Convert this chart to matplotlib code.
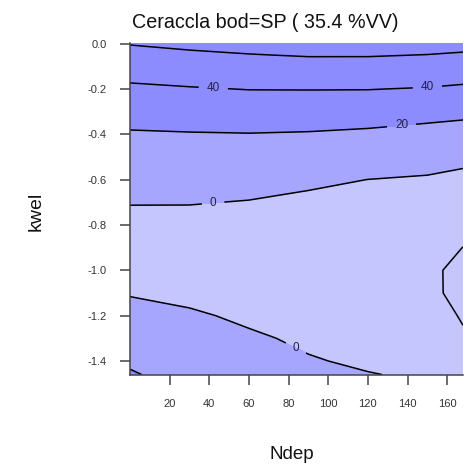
import numpy as np
import matplotlib
matplotlib.use('Agg')
import matplotlib.pyplot as plt

plt.rcParams['axes.unicode_minus'] = False
plt.rcParams['font.family'] = ['Liberation Sans', 'DejaVu Sans']

# grid
ndep = [0, 30, 60, 90, 120, 150, 168]
kwel = [0.0, -0.05, -0.1, -0.15, -0.2, -0.25, -0.3, -0.35, -0.4, -0.5,
        -0.6, -0.7, -0.8, -0.9, -1.0, -1.1, -1.2, -1.3, -1.4, -1.46]
z_values = [
    [60.7, 63.5, 65.7, 67.8, 67.8, 66.7, 65.2],
    [54.7, 57.3, 59.4, 61.0, 61.0, 59.7, 58.2],
    [48.6, 51.0, 53.0, 54.2, 54.1, 52.8, 51.1],
    [42.5, 44.8, 46.7, 47.4, 47.3, 45.8, 44.0],
    [37.1, 38.8, 40.4, 40.5, 40.4, 39.0, 37.2],
    [32.2, 33.7, 35.0, 34.9, 34.4, 32.7, 30.8],
    [27.3, 28.7, 29.7, 29.4, 28.4, 26.3, 24.4],
    [22.4, 23.6, 24.4, 23.9, 22.4, 20.1, 18.4],
    [18.5, 19.1, 19.5, 18.8, 17.4, 15.2, 13.5],
    [12.5, 13.0, 12.8, 11.0, 8.7, 5.7, 3.6],
    [6.6, 6.9, 6.0, 3.1, -0.1, -1.4, -3.5],
    [0.7, 0.75, -0.65, -3.4, -4.9, -4.8, -9.0],
    [-4.8, -5.6, -7.2, -8.9, -9.75, -8.3, -14.5],
    [-10.3, -12.1, -13.7, -14.5, -14.6, -11.7, -20.2],
    [-7.5, -9.7, -14.1, -17.9, -19.5, -17.3, -23.5],
    [-1.0, -3.5, -8.2, -12.7, -15.1, -16.0, -25.0],
    [5.2, 1.8, -2.3, -7.4, -10.6, -12.2, -21.5],
    [11.3, 5.9, 1.8, -2.1, -6.2, -8.3, -18.0],
    [17.4, 10.1, 4.9, 0.9, -1.8, -4.3, -14.5],
    [21.7, 13.0, 7.0, 2.0, 0.5, -1.6, -12.0],
]
line_levels = [-20, 0, 20, 40, 60]
fill_levels = [-100, 0, 20, 100]
fill_colors = ['#c6c6ff', '#a6a6ff', '#8c8cff']
x_ticks = [20, 40, 60, 80, 100, 120, 140, 160]
y_ticks = [0.0, -0.2, -0.4, -0.6, -0.8, -1.0, -1.2, -1.4]
label_spots = [(42, -0.2), (150, -0.19), (137, -0.36), (42, -0.71), (85, -1.32)]

X, Y = np.meshgrid(ndep, kwel)
Z = np.array(z_values)

fig = plt.figure(figsize=(4.68, 4.73), dpi=100)
ax = fig.add_axes([130/468, 1-375/473, (463-130)/468, (375-43)/473])

ax.contourf(X, Y, Z, levels=fill_levels, colors=fill_colors)
cs = ax.contour(X, Y, Z, levels=line_levels, colors='black', linewidths=1.1,
                negative_linestyles='solid')
lbls = ax.clabel(cs, inline=True, fontsize=8.5, fmt='%d', manual=label_spots,
                 inline_spacing=8)
for t in lbls:
    t.set_color('#222244')
    t.set_rotation(0)

ax.set_xlim(0, 168)
ax.set_ylim(-1.462, 0.003)
ax.set_xticks(x_ticks)
ax.set_xticklabels([str(v) for v in x_ticks])
ax.set_yticks(y_ticks)
ax.set_yticklabels(['%.1f' % v for v in y_ticks])
for s in ['top', 'right']:
    ax.spines[s].set_visible(False)
for s in ['left', 'bottom']:
    ax.spines[s].set_color('#444444')
    ax.spines[s].set_linewidth(1.1)
ax.tick_params(axis='both', direction='out', length=7, width=1.1,
               color='#444444', labelsize=8, labelcolor='#333333')
ax.tick_params(axis='y', pad=10)
ax.tick_params(axis='x', pad=10)

fig.text(132/468, 1-28/473, 'Ceraccla bod=SP ( 35.4 %VV)', fontsize=14.2,
         ha='left', va='baseline', color='#111111')
fig.text(36/468, 1-211/473, 'kwel', fontsize=14, rotation=90,
         ha='center', va='center', color='#111111')
fig.text(292/468, 1-454/473, 'Ndep', fontsize=13.5,
         ha='center', va='center', color='#111111')

fig.savefig('out.png', dpi=100)
